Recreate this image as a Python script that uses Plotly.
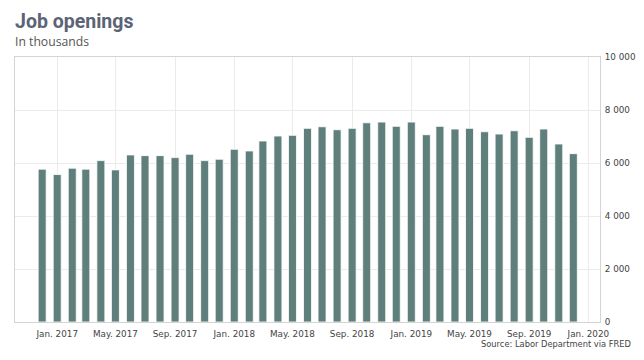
import plotly.graph_objects as go

months = [
    "2016-12-01", "2017-01-01", "2017-02-01", "2017-03-01", "2017-04-01", "2017-05-01",
    "2017-06-01", "2017-07-01", "2017-08-01", "2017-09-01", "2017-10-01", "2017-11-01",
    "2017-12-01", "2018-01-01", "2018-02-01", "2018-03-01", "2018-04-01", "2018-05-01",
    "2018-06-01", "2018-07-01", "2018-08-01", "2018-09-01", "2018-10-01", "2018-11-01",
    "2018-12-01", "2019-01-01", "2019-02-01", "2019-03-01", "2019-04-01", "2019-05-01",
    "2019-06-01", "2019-07-01", "2019-08-01", "2019-09-01", "2019-10-01", "2019-11-01",
    "2019-12-01",
]
openings = [
    5767, 5564, 5804, 5767, 6090, 5740,
    6304, 6278, 6278, 6203, 6330, 6090,
    6142, 6518, 6454, 6830, 7018, 7044,
    7308, 7368, 7255, 7308, 7518, 7544,
    7383, 7544, 7067, 7383, 7281, 7308,
    7180, 7093, 7217, 6969, 7281, 6717,
    6353,
]
y_tickvals = [0, 2000, 4000, 6000, 8000, 10000]
y_ticktext = ["0", "2 000", "4 000", "6 000", "8 000", "10 000"]

DAY = 86400000
fig = go.Figure()
fig.add_trace(go.Bar(
    x=months, y=openings,
    width=[16.5 * DAY] * len(months),
    marker=dict(color="#5f7f7c", line=dict(color="rgba(255,255,255,0.8)", width=1)),
))

tickfont = dict(size=8.8, color="#444444", family="DejaVu Sans, Verdana, sans-serif")
# page body has an 8px default margin, so the figure is offset by 8px
fig.update_layout(
    width=636, height=352,
    margin=dict(l=6.5, r=44, t=49, b=38),
    paper_bgcolor="white", plot_bgcolor="white",
    showlegend=False,
    xaxis=dict(
        type="date", automargin=False,
        range=["2016-10-06", "2020-01-25"],
        tick0="2017-01-01", dtick="M4",
        tickformat="%b. %Y",
        showgrid=True, gridcolor="#ebebeb", gridwidth=1,
        showline=True, linecolor="#d4d4d4", mirror=True, linewidth=1,
        ticks="", tickfont=tickfont, ticklabelstandoff=3,
        zeroline=False,
    ),
    yaxis=dict(
        side="right", automargin=False,
        range=[0, 10000],
        tickvals=y_tickvals, ticktext=y_ticktext,
        showgrid=True, gridcolor="#ebebeb", gridwidth=1,
        showline=True, linecolor="#d4d4d4", mirror=True, linewidth=1,
        ticks="", tickfont=tickfont, ticklabelstandoff=2,
        zeroline=False,
    ),
)
fig.add_annotation(text="<b>Job openings</b>", xref="paper", yref="paper",
                   x=0, y=1.0, xanchor="left", yanchor="bottom", yshift=22, xshift=-2,
                   showarrow=False, font=dict(size=19.5, color="#5b6375", family="Roboto, sans-serif"))
fig.add_annotation(text="In thousands", xref="paper", yref="paper",
                   x=0, y=1.0, xanchor="left", yanchor="bottom", yshift=5, xshift=-2,
                   showarrow=False, font=dict(size=12.2, color="#555555", family="Open Sans, sans-serif"))
fig.add_annotation(text="Source: Labor Department via FRED", xref="paper", yref="paper",
                   x=1.0, y=0, xanchor="right", yanchor="top", yshift=-15, xshift=33,
                   showarrow=False, font=dict(size=8.3, color="#444444", family="DejaVu Sans, Verdana, sans-serif"))

fig.write_html("out.html")
